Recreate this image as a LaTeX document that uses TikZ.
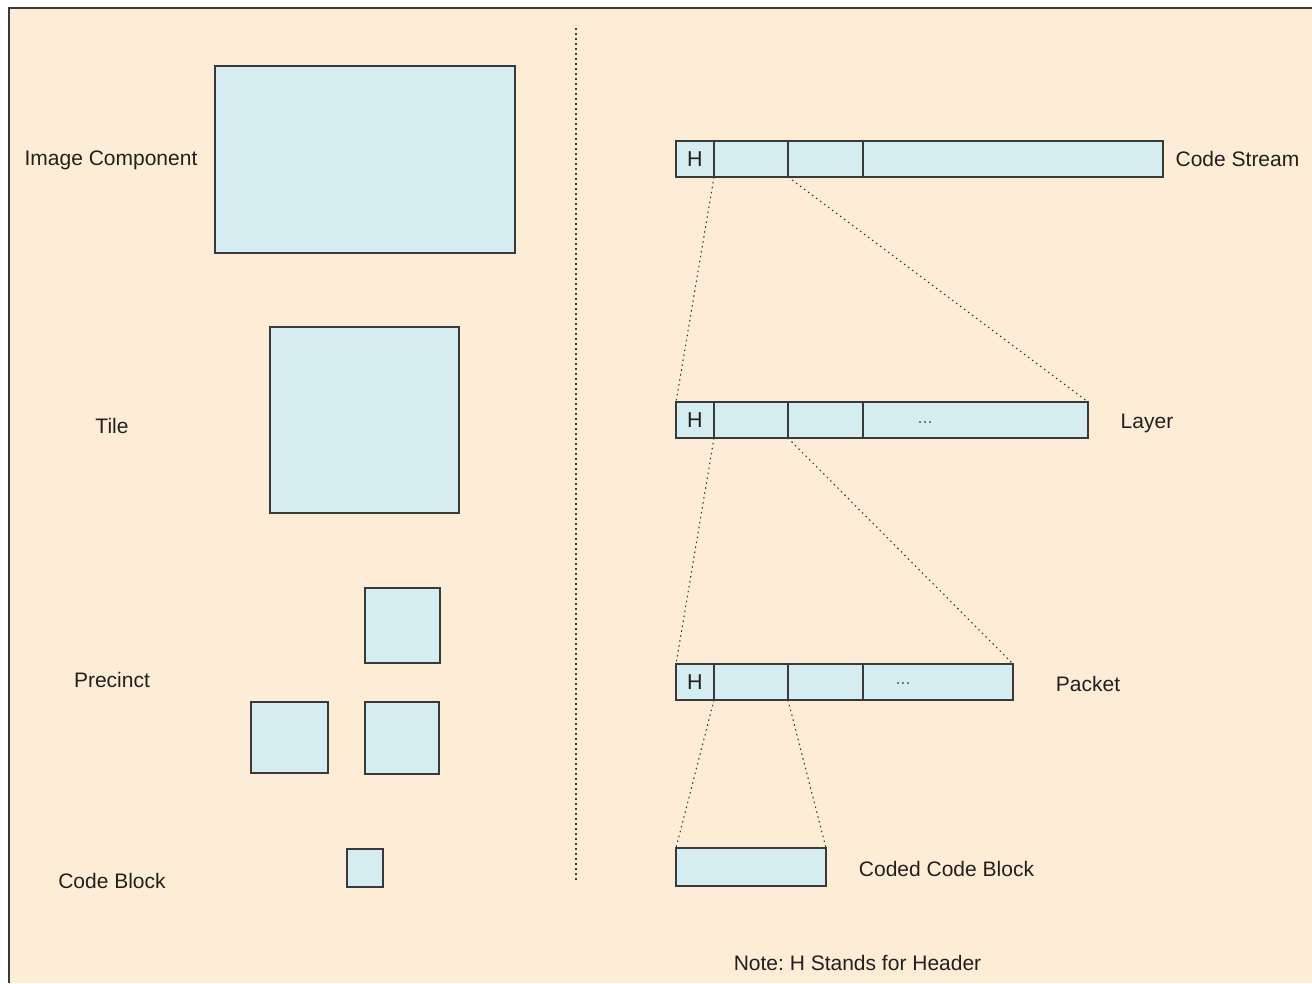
\documentclass[tikz,border=0pt]{standalone}
\usepackage{fontspec}
\setmainfont{Liberation Sans}
\definecolor{bgc}{HTML}{FEEDD6}
\definecolor{boxc}{HTML}{D5EDF1}
\definecolor{linec}{HTML}{3A3A3A}
\definecolor{txtc}{HTML}{231F20}
\frenchspacing
\begin{document}
\begin{tikzpicture}[x=1pt,y=-1pt,
  box/.style={draw=linec, fill=boxc, line width=1.3pt, inner sep=0pt, outer sep=0pt,
    font=\fontsize{21.5}{25}\selectfont, text=txtc},
  lbl/.style={anchor=base, inner sep=0pt, font=\fontsize{21}{25}\selectfont, text=txtc},
  dts/.style={anchor=base, inner sep=0pt, font=\fontsize{18}{20}\selectfont, text=linec!80},
  conn/.style={draw=linec, line width=1.1pt, dash pattern=on 1.5pt off 3.5pt},
]
\useasboundingbox (0,0) rectangle (1312,983);
\fill[bgc] (9,8) rectangle (1312,983);
\draw[linec, line width=1.5pt] (9,983) -- (9,8) -- (1312,8);
\coordinate (divtop) at (576,28);
\coordinate (divbot) at (576,882);
\draw[conn] (divtop) -- (divbot);

% left column
\node[box, minimum width=300pt, minimum height=187pt] (img) at (365,159.5) {};
\node[box, minimum width=189pt, minimum height=186pt] (tile) at (364.5,420) {};
\node[box, minimum width=75pt, minimum height=75pt] (pa) at (402.5,625.5) {};
\node[box, minimum width=77pt, minimum height=71pt] (pb) at (289.5,737.5) {};
\node[box, minimum width=74pt, minimum height=72pt] (pc) at (402,738) {};
\node[box, minimum width=36pt, minimum height=38pt] (cb) at (365,868) {};

\node[lbl] (limg) at (111,165.5) {Image Component};
\node[lbl] (ltile) at (112,433.5) {Tile};
\node[lbl] (lprec) at (112,687.5) {Precinct};
\node[lbl] (lcb) at (112,888.5) {Code Block};

% code stream
\node[box, minimum width=38pt, minimum height=36pt] (cs1) at (695,159) {H};
\node[box, minimum width=74pt, minimum height=36pt] (cs2) at (751,159) {};
\node[box, minimum width=75pt, minimum height=36pt] (cs3) at (825.5,159) {};
\node[box, minimum width=300pt, minimum height=36pt] (cs4) at (1013,159) {};
\node[lbl] (lcs) at (1237.5,166.5) {Code Stream};

% layer
\node[box, minimum width=38pt, minimum height=36pt] (ly1) at (695,420) {H};
\node[box, minimum width=74pt, minimum height=36pt] (ly2) at (751,420) {};
\node[box, minimum width=75pt, minimum height=36pt] (ly3) at (825.5,420) {};
\node[box, minimum width=225pt, minimum height=36pt] (ly4) at (975.5,420) {};
\node[dts] (lydots) at (925,423.5) {...};
\node[lbl] (lly) at (1147,428.5) {Layer};

% packet
\node[box, minimum width=38pt, minimum height=36pt] (pk1) at (695,682) {H};
\node[box, minimum width=74pt, minimum height=36pt] (pk2) at (751,682) {};
\node[box, minimum width=75pt, minimum height=36pt] (pk3) at (825.5,682) {};
\node[box, minimum width=150pt, minimum height=36pt] (pk4) at (938,682) {};
\node[dts] (pkdots) at (903,684.5) {...};
\node[lbl] (lpk) at (1088,691.5) {Packet};

% coded code block
\node[box, minimum width=150pt, minimum height=38pt] (ccb) at (751,867) {};
\node[lbl] (lccb) at (946.5,876.5) {Coded Code Block};

\node[lbl] (note) at (857.5,970) {Note: H Stands for Header};

% connectors
\draw[conn] (cs1.south east) -- (ly1.north west);
\draw[conn] (cs2.south east) -- (ly4.north east);
\draw[conn] (ly1.south east) -- (pk1.north west);
\draw[conn] (ly2.south east) -- (pk4.north east);
\draw[conn] (pk1.south east) -- (ccb.north west);
\draw[conn] (pk2.south east) -- (ccb.north east);
\end{tikzpicture}
\end{document}
